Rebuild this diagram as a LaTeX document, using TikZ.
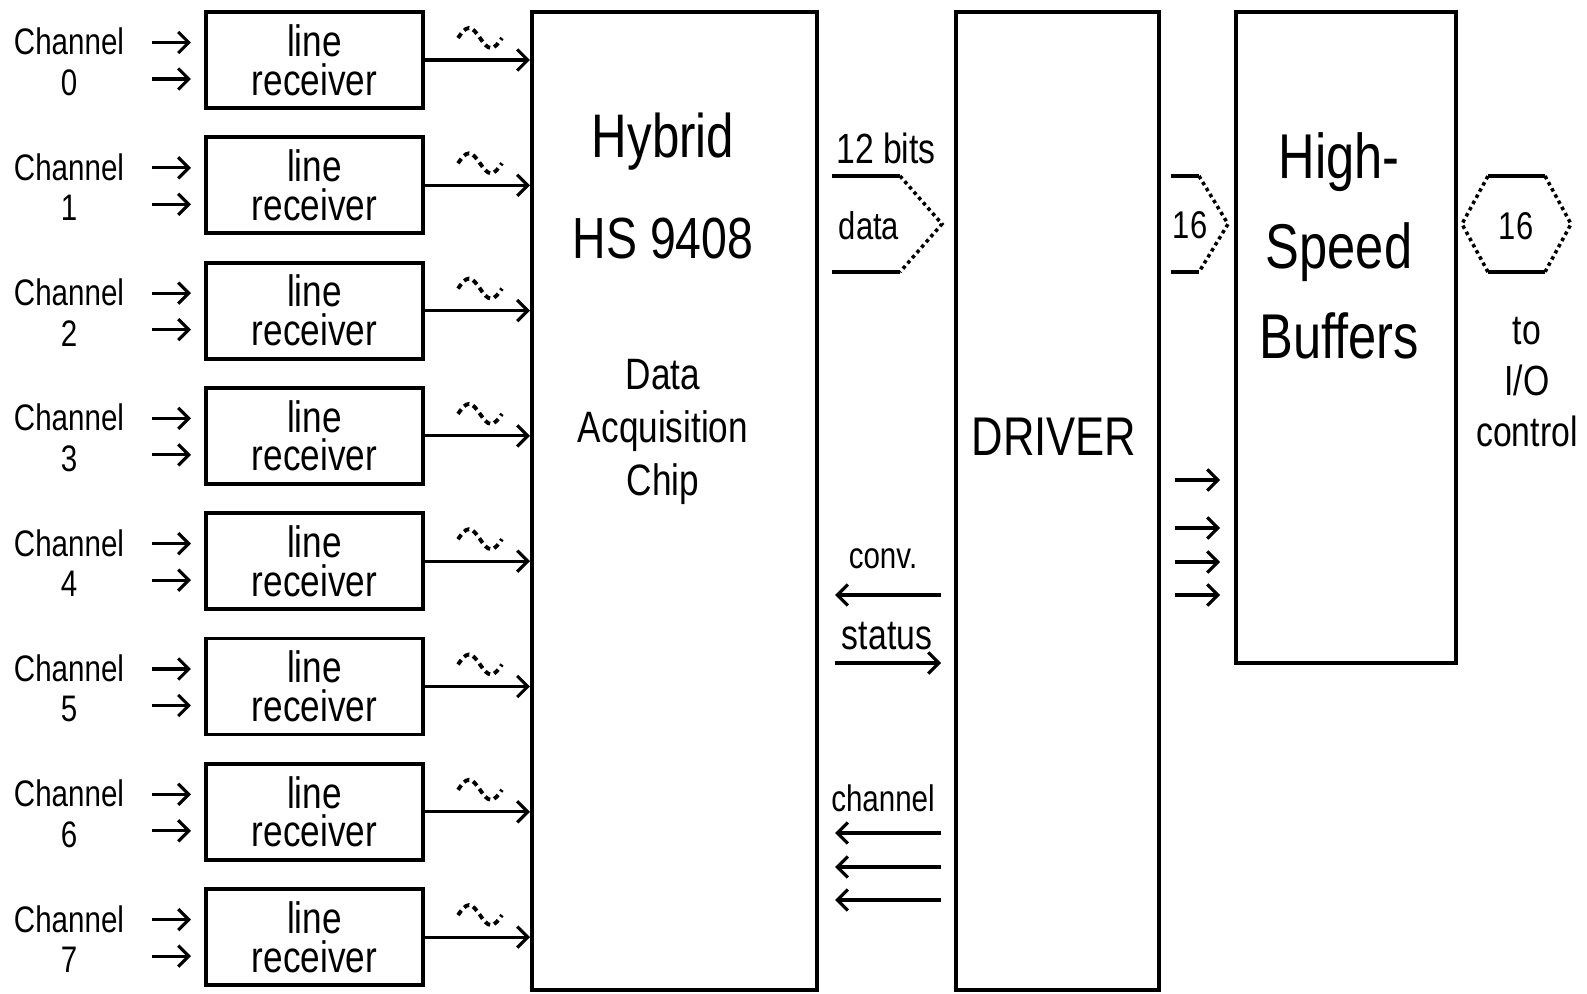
\documentclass[tikz,border=0pt]{standalone}
\usepackage{fontspec}
\newfontfamily\plotfont[FakeStretch=0.8]{Liberation Sans}
\usetikzlibrary{arrows.meta,positioning,calc}

\tikzset{
  block/.style={draw, line width=1.1pt, inner sep=0pt},
  recv/.style={block, minimum width=2.17cm, minimum height=0.96cm, align=center,
    font=\plotfont\fontsize{12.5}{11}\selectfont},
  lbl/.style={inner sep=0pt, align=center, font=\plotfont\fontsize{10.5}{11.5}\selectfont},
  sig/.style={->, line width=0.9pt},
  busline/.style={line width=1pt},
  busend/.style={line width=1pt, densely dotted},
  tld/.style={line width=1.1pt, dash pattern=on 1.6pt off 1.2pt},
}

\begin{document}
\begin{tikzpicture}[x=0.01cm, y=-0.01cm, >={Straight Barb[length=3pt,width=6pt]}]
    \useasboundingbox (0,0) rectangle (1587,994);
    % main blocks
    \node[block, minimum width=2.85cm, minimum height=9.78cm] (hyb) at (674.5,501) {};
    \node[block, minimum width=2.03cm, minimum height=9.78cm] (drv) at (1057.5,501) {};
    \node[block, minimum width=2.20cm, minimum height=6.51cm] (buf) at (1346,337.5) {};

    \node[lbl, font=\plotfont\fontsize{17.5}{18}\selectfont] (hybname) at (663,142) {Hybrid};
    \node[lbl, font=\plotfont\fontsize{16.5}{18}\selectfont] (hybpart) at (663,239) {HS 9408};
    \node[lbl, font=\plotfont\fontsize{12.5}{15}\selectfont] (hybdesc) at (663,432) {Data\\Acquisition\\Chip};
    \node[lbl, font=\plotfont\fontsize{15.5}{18}\selectfont] (drvname) at (1054,437) {DRIVER};
    \node[lbl, font=\plotfont\fontsize{18}{25.5}\selectfont] (bufname) at (1339,246) {High-\\Speed\\Buffers};

    % channels
    \foreach \i in {0,...,7} {
      \node[recv] (rx\i) at (314.5,60+125.3*\i) {line\\receiver};
      \node[lbl] (ch\i) at (69,62+125.3*\i) {Channel\\\i};
      \coordinate (inA\i) at (152,42.5+125.3*\i);
      \coordinate (inB\i) at (152,79+125.3*\i);
      \draw[sig, shorten >=0.13cm] (inA\i) -- (inA\i -| rx\i.west);
      \draw[sig, shorten >=0.13cm] (inB\i) -- (inB\i -| rx\i.west);
      \draw[sig] (rx\i.east) -- (rx\i.east -| hyb.west);
      \draw[tld] (458,38+125.3*\i) sin ++(11,-10) cos ++(11,10) sin ++(11,10) cos ++(11,-10);
    }

    % 12 bit data bus
    \node[lbl, font=\plotfont\fontsize{12}{12}\selectfont] (bits) at (886,148) {12 bits};
    \node[lbl, font=\plotfont\fontsize{11}{12}\selectfont] (data) at (869,226) {data};
    \draw[busline] (832,176) -- (900,176);
    \draw[busend] (900,176) -- (942,224) -- (900,272);
    \draw[busline] (900,272) -- (832,272);

    % 16 bit bus into buffers
    \node[lbl, font=\plotfont\fontsize{11}{12}\selectfont] (w16) at (1190,225) {16};
    \draw[busline] (1171,176) -- (1199,176);
    \draw[busend] (1199,176) -- (1228,224) -- (1199,272);
    \draw[busline] (1199,272) -- (1171,272);

    % 16 bit bus out
    \node[lbl, font=\plotfont\fontsize{11}{12}\selectfont] (o16) at (1516,226) {16};
    \draw[busline] (1488,176) -- (1545,176);
    \draw[busend] (1545,176) -- (1571,224) -- (1545,272);
    \draw[busline] (1545,272) -- (1488,272);
    \draw[busend] (1488,272) -- (1462,224) -- (1488,176);
    \node[lbl, font=\plotfont\fontsize{12}{14.5}\selectfont] (dest) at (1527,382) {to\\I/O\\control};

    % control lines
    \node[lbl] (conv) at (883,559) {conv.};
    \node[lbl, font=\plotfont\fontsize{12}{12}\selectfont] (stat) at (887,636) {status};
    \node[lbl] (chsel) at (883,798) {channel};
    \coordinate (cvy) at (0,595);
    \coordinate (sty) at (0,663);
    \draw[sig, shorten <=0.13cm, shorten >=0.16cm] (cvy -| drv.west) -- (cvy -| hyb.east);
    \draw[sig, shorten <=0.16cm, shorten >=0.13cm] (sty -| hyb.east) -- (sty -| drv.west);
    \foreach \y in {833,867,900} {
      \coordinate (chy) at (0,\y);
      \draw[sig, shorten <=0.13cm, shorten >=0.16cm] (chy -| drv.west) -- (chy -| hyb.east);
    }
    \foreach \y in {480,528,562,595} {
      \coordinate (bfy) at (0,\y);
      \draw[sig, shorten <=0.14cm, shorten >=0.14cm] (bfy -| drv.east) -- (bfy -| buf.west);
    }
\end{tikzpicture}
\end{document}
